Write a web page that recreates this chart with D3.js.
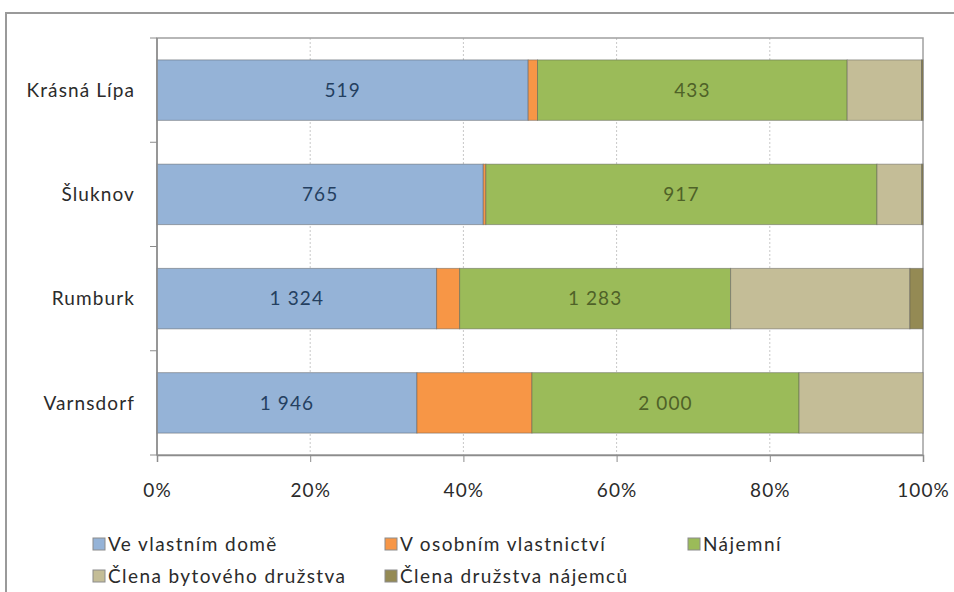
<!DOCTYPE html>
<html>
<head>
<meta charset="utf-8">
<script src="https://cdn.jsdelivr.net/npm/d3@7"></script>
<style>
  body { margin: 0; background: #fff; }
  svg text { font-family: Lato, 'Open Sans', sans-serif; letter-spacing: 1.1px; }
</style>
</head>
<body>
<div id="chart"></div>
<script>
// Data
const categories = ['Krásná Lípa', 'Šluknov', 'Rumburk', 'Varnsdorf'];
const seriesNames = ['Ve vlastním domě', 'V osobním vlastnictví', 'Nájemní', 'Člena bytového družstva', 'Člena družstva nájemců'];
const vlastniDum = [519, 765, 1324, 1946];
const osobniVlastnictvi = [13, 6, 109, 861];
const najemni = [433, 917, 1283, 2000];
const bytoveDruzstvo = [104, 105, 849, 928];
const druzstvoNajemcu = [2, 3, 62, 0];
const xTicks = [0, 0.2, 0.4, 0.6, 0.8, 1];

// Constant
const width = 954;
const height = 592;
const margin = {top: 38, right: 31, bottom: 137, left: 157};
const colors = ['#95B3D7', '#F79646', '#9BBB59', '#C4BD97', '#948A54'];
const labelColors = ['#243F60', null, '#4F6228', null, null];
const fontSize = '19px';
const textColor = '#2b2b2b';

const allSeries = [vlastniDum, osobniVlastnictvi, najemni, bytoveDruzstvo, druzstvoNajemcu];

const rows = categories.map((c, i) => {
    const row = {city: c};
    seriesNames.forEach((s, k) => { row[s] = allSeries[k][i]; });
    row.total = d3.sum(allSeries, a => a[i]);
    return row;
});

const stack = d3.stack()
    .keys(seriesNames)
    .value((d, key) => d[key] / d.total);
const stacked = stack(rows);

const xScale = d3.scaleLinear().domain([0, 1]).range([margin.left, width - margin.right]);
const yScale = d3.scaleBand().domain(categories)
    .range([margin.top, height - margin.bottom])
    .paddingInner(0.42).paddingOuter(0.21);

const locale = d3.formatLocale({decimal: ',', thousands: '\u00a0', grouping: [3], currency: ['', ' Kč']});
const numFormat = locale.format(',d');

const svg = d3.select('#chart').append('svg')
    .attr('width', width)
    .attr('height', height);

// outer frame
svg.append('rect')
    .attr('x', 6).attr('y', 13)
    .attr('width', width + 10).attr('height', height + 10)
    .attr('fill', '#fff')
    .attr('stroke', '#9a9a9a')
    .attr('stroke-width', 2);

// gridlines
svg.append('g')
    .selectAll('line')
    .data(xTicks.slice(1, -1))
    .join('line')
        .attr('x1', d => xScale(d)).attr('x2', d => xScale(d))
        .attr('y1', margin.top).attr('y2', height - margin.bottom)
        .attr('stroke', '#c8c8c8')
        .attr('stroke-dasharray', '2,2');

// plot area border
svg.append('rect')
    .attr('x', margin.left).attr('y', margin.top)
    .attr('width', xScale(1) - xScale(0))
    .attr('height', height - margin.bottom - margin.top)
    .attr('fill', 'none')
    .attr('stroke', '#a0a0a0')
    .attr('stroke-width', 1.5);

// bars
const layers = svg.append('g')
    .selectAll('g')
    .data(stacked)
    .join('g')
        .attr('fill', (d, i) => colors[i]);

layers.selectAll('rect')
    .data(d => d)
    .join('rect')
        .attr('x', d => xScale(d[0]))
        .attr('y', d => yScale(d.data.city))
        .attr('width', d => Math.max(0, xScale(d[1]) - xScale(d[0])))
        .attr('height', yScale.bandwidth())
        .attr('stroke', 'rgba(80,80,80,0.45)')
        .attr('stroke-width', 1);

// data labels (only first and third series)
layers.filter((d, i) => labelColors[i] !== null)
    .each(function (layer) {
        const k = seriesNames.indexOf(layer.key);
        d3.select(this).selectAll('text')
            .data(layer)
            .join('text')
                .attr('x', d => (xScale(d[0]) + xScale(d[1])) / 2)
                .attr('y', d => yScale(d.data.city) + yScale.bandwidth() / 2)
                .attr('dy', '0.36em')
                .attr('text-anchor', 'middle')
                .style('font-size', fontSize)
                .attr('fill', labelColors[k])
                .text(d => numFormat(d.data[layer.key]));
    });

// y axis: ticks between categories
const yAxis = svg.append('g');
yAxis.append('line')
    .attr('x1', margin.left).attr('x2', margin.left)
    .attr('y1', margin.top).attr('y2', height - margin.bottom)
    .attr('stroke', '#8c8c8c').attr('stroke-width', 1.5);
yAxis.selectAll('.ytick')
    .data(d3.range(categories.length + 1))
    .join('line')
        .attr('class', 'ytick')
        .attr('x1', margin.left - 7).attr('x2', margin.left)
        .attr('y1', i => margin.top + i * yScale.step())
        .attr('y2', i => margin.top + i * yScale.step())
        .attr('stroke', '#8c8c8c');
yAxis.selectAll('text')
    .data(categories)
    .join('text')
        .attr('x', 135)
        .attr('y', d => yScale(d) + yScale.bandwidth() / 2)
        .attr('dy', '0.36em')
        .attr('text-anchor', 'end')
        .style('font-size', fontSize)
        .attr('fill', textColor)
        .text(d => d);

// x axis
const xAxis = svg.append('g')
    .attr('transform', `translate(0, ${height - margin.bottom})`)
    .call(d3.axisBottom(xScale).tickValues(xTicks).tickFormat(d3.format('.0%')).tickSize(7).tickPadding(22));
xAxis.select('.domain').attr('stroke', '#8c8c8c').attr('stroke-width', 1.5);
xAxis.selectAll('.tick line').attr('stroke', '#8c8c8c');
xAxis.selectAll('.tick text')
    .style('font-size', fontSize)
    .style('font-family', 'Lato, sans-serif')
    .attr('fill', textColor);

// legend
const legendPos = [[93, 544], [385, 544], [688, 544], [93, 576], [385, 576]];
const legend = svg.append('g')
    .selectAll('g')
    .data(seriesNames)
    .join('g')
        .attr('transform', (d, i) => `translate(${legendPos[i][0]}, ${legendPos[i][1]})`);
legend.append('rect')
    .attr('x', 0).attr('y', -6)
    .attr('width', 12).attr('height', 12)
    .attr('fill', (d, i) => colors[i])
    .attr('stroke', '#8c8c8c');
legend.append('text')
    .attr('x', 15)
    .attr('dy', '0.36em')
    .style('font-size', fontSize)
    .style('letter-spacing', '1.4px')
    .attr('fill', textColor)
    .text(d => d);
</script>
</body>
</html>
